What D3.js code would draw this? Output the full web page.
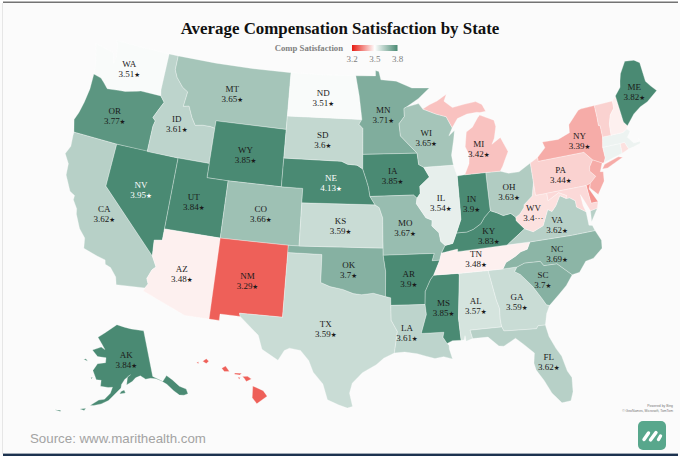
<!DOCTYPE html>
<html>
<head>
<meta charset="utf-8">
<script src="https://cdn.jsdelivr.net/npm/d3@7"></script>
<style>
body { margin: 0; background: #fbfbfb; }
svg { display: block; }
.state-label { font-family: "Liberation Serif", serif; font-size: 9px; text-anchor: middle; }
.state-label .star { font-family: "DejaVu Sans", sans-serif; font-size: 6.5px; }
</style>
</head>
<body>
<svg width="680" height="456"></svg>
<script>
const titleText = "Average Compensation Satisfaction by State";
const legendTitle = "Comp Satisfaction";
const legendTicks = [3.2, 3.5, 3.8];
const sourceText = "Source: www.marithealth.com";

const stateCodes = ["WA","OR","CA","NV","ID","MT","WY","UT","AZ","CO","NM","TX","OK","KS","NE","SD","ND","MN","IA","MO","AR","LA","MS","AL","GA","FL","SC","NC","TN","KY","VA","WV","OH","IN","IL","WI","MI","NY","PA","NJ","DE","MD","CT","RI","MA","VT","NH","ME","AK","HI"];
const satisfaction = [3.51,3.77,3.62,3.95,3.61,3.65,3.85,3.84,3.48,3.66,3.29,3.59,3.7,3.59,4.13,3.6,3.51,3.71,3.85,3.67,3.9,3.61,3.85,3.57,3.59,3.62,3.7,3.69,3.48,3.83,3.62,3.46,3.63,3.9,3.54,3.65,3.42,3.39,3.44,3.39,3.36,3.45,3.53,3.46,3.53,3.44,3.48,3.82,3.84,3.29];
const unlabeled = ["NJ","DE","MD","CT","RI","MA","VT","NH","HI"];
const truncatedLabels = { WV: "3.4···" };

// state outlines, lon/lat
const stateShapes = {
  WA: [[[-122.76,49],[-120,49],[-117.03,49],[-117.04,46.42],[-116.92,45.99],[-118.98,46],[-119.3,45.93],[-120.5,45.7],[-121.2,45.65],[-122.3,45.55],[-122.8,45.9],[-123.2,46.15],[-124,46.27],[-124.1,46.9],[-124.7,48.38],[-123.1,48.15],[-122.7,48.1],[-122.4,47.4],[-122.3,47.9],[-122.5,48.75]]],
  OR: [[[-124.55,42.84],[-124.21,42],[-120,42],[-117.03,42],[-117.03,43.8],[-116.92,44.2],[-117.22,44.4],[-116.85,45],[-116.46,45.6],[-116.92,45.99],[-118.98,46],[-119.3,45.93],[-120.5,45.7],[-121.2,45.65],[-122.3,45.55],[-122.8,45.9],[-123.2,46.15],[-124,46.27],[-123.95,45.2],[-124.1,44.2],[-124.3,43.4]]],
  CA: [[[-124.21,42],[-120,42],[-120,39],[-114.63,35],[-114.14,34.3],[-114.43,34.05],[-114.72,33.4],[-114.52,33.03],[-114.72,32.72],[-117.12,32.53],[-117.3,33.05],[-117.9,33.6],[-118.4,33.74],[-118.5,34.03],[-119.2,34.15],[-120.5,34.45],[-120.65,35.15],[-121.3,35.7],[-121.9,36.6],[-122,36.96],[-122.5,37.5],[-122.5,37.8],[-123,38],[-123.75,39],[-123.85,39.8],[-124.4,40.4],[-124.1,41],[-124.2,41.75]]],
  NV: [[[-120,42],[-114.04,42],[-114.04,36.2],[-114.74,36.1],[-114.63,35],[-120,39]]],
  ID: [[[-117.03,49],[-116.05,49],[-116.05,48],[-115.7,47.5],[-114.95,46.9],[-114.35,46.65],[-114.5,45.6],[-113.95,45.7],[-113.45,44.95],[-113,44.45],[-112.3,44.55],[-111.5,44.55],[-111.05,44.48],[-111.05,42],[-114.04,42],[-117.03,42],[-117.03,43.8],[-116.92,44.2],[-117.22,44.4],[-116.85,45],[-116.46,45.6],[-116.92,45.99],[-117.04,46.42]]],
  MT: [[[-116.05,49],[-112,49],[-108,49],[-104.05,49],[-104.05,45.94],[-104.05,45],[-111.05,45],[-111.05,44.48],[-111.5,44.55],[-112.3,44.55],[-113,44.45],[-113.45,44.95],[-113.95,45.7],[-114.5,45.6],[-114.35,46.65],[-114.95,46.9],[-115.7,47.5],[-116.05,48]]],
  WY: [[[-111.05,45],[-104.05,45],[-104.05,43],[-104.05,41],[-109.05,41],[-111.05,41]]],
  UT: [[[-114.04,42],[-111.05,42],[-111.05,41],[-109.05,41],[-109.05,37],[-114.04,37]]],
  AZ: [[[-114.04,37],[-109.05,37],[-109.05,31.33],[-111.07,31.33],[-114.81,32.5],[-114.72,32.72],[-114.52,33.03],[-114.72,33.4],[-114.43,34.05],[-114.14,34.3],[-114.63,35],[-114.74,36.1],[-114.04,36.2]]],
  CO: [[[-109.05,41],[-104.05,41],[-102.05,41],[-102.05,40],[-102.05,37],[-103,37],[-109.05,37]]],
  NM: [[[-109.05,37],[-103,37],[-103,36.5],[-103.04,32],[-106.62,32],[-106.53,31.78],[-108.21,31.78],[-108.21,31.33],[-109.05,31.33]]],
  TX: [[[-103,36.5],[-100,36.5],[-100,34.56],[-99.2,34.3],[-98.1,34.13],[-97.2,33.85],[-96.5,33.78],[-95.5,33.88],[-94.48,33.64],[-94.04,33.55],[-94.04,33.02],[-94.04,31.99],[-93.55,31.2],[-93.7,30.4],[-93.84,29.7],[-94.7,29.35],[-95.3,28.9],[-96.4,28.35],[-97.2,27.6],[-97.4,26.9],[-97.15,25.96],[-97.55,25.85],[-98.2,26.05],[-99.1,26.4],[-99.5,27.5],[-100.3,28.3],[-100.7,29.1],[-101.4,29.77],[-102.3,29.88],[-102.7,29.7],[-103.15,28.98],[-104.5,29.65],[-104.9,30.6],[-106.53,31.78],[-106.62,32],[-103.04,32]]],
  OK: [[[-103,37],[-102.05,37],[-94.62,37],[-94.62,36.5],[-94.43,35.39],[-94.48,33.64],[-95.5,33.88],[-96.5,33.78],[-97.2,33.85],[-98.1,34.13],[-99.2,34.3],[-100,34.56],[-100,36.5],[-103,36.5]]],
  KS: [[[-102.05,40],[-95.31,40],[-94.92,39.8],[-94.62,39.1],[-94.62,37],[-102.05,37]]],
  NE: [[[-104.05,43],[-98.5,43],[-97.9,42.8],[-97,42.75],[-96.45,42.49],[-96.1,41.7],[-95.9,41.2],[-95.77,40.58],[-95.31,40],[-102.05,40],[-102.05,41],[-104.05,41]]],
  SD: [[[-104.05,45.94],[-96.56,45.94],[-96.85,45.6],[-96.45,45.3],[-96.45,43.5],[-96.45,42.49],[-97,42.75],[-97.9,42.8],[-98.5,43],[-104.05,43]]],
  ND: [[[-104.05,49],[-100,49],[-97.23,49],[-96.85,47.6],[-96.56,45.94],[-104.05,45.94]]],
  MN: [[[-97.23,49],[-95.15,49],[-95.15,49.38],[-94.8,49.3],[-94.6,48.72],[-93,48.6],[-91.4,48.07],[-89.6,48],[-90.8,47.3],[-92.05,46.75],[-92.3,46.66],[-92.29,46.1],[-92.85,45.6],[-92.75,44.75],[-91.2,43.5],[-96.45,43.5],[-96.45,45.3],[-96.85,45.6],[-96.56,45.94],[-96.85,47.6]]],
  IA: [[[-96.45,43.5],[-91.2,43.5],[-91.1,42.7],[-90.64,42.5],[-90.15,41.8],[-91.1,41.2],[-91.1,40.7],[-91.42,40.38],[-91.73,40.61],[-95.77,40.58],[-95.9,41.2],[-96.1,41.7],[-96.45,42.49]]],
  MO: [[[-95.77,40.58],[-91.73,40.61],[-91.42,40.38],[-91.5,40],[-90.7,39],[-90.15,38.8],[-90.2,38.4],[-89.6,37.9],[-89.5,37.3],[-89.13,37],[-89.5,36.5],[-89.7,36],[-90.37,36],[-90.15,36.5],[-94.62,36.5],[-94.62,37],[-94.62,39.1],[-94.92,39.8],[-95.31,40]]],
  AR: [[[-94.62,36.5],[-90.15,36.5],[-90.37,36],[-89.7,36],[-90.3,35],[-90.6,34.7],[-91.1,33.9],[-91.17,33],[-94.04,33.02],[-94.04,33.55],[-94.48,33.64],[-94.43,35.39]]],
  LA: [[[-94.04,33.02],[-91.17,33],[-91.1,32.3],[-91.6,31],[-89.75,31],[-89.85,30.65],[-89.55,30.2],[-89.4,30.05],[-89.4,29.8],[-89.2,29.1],[-89.9,29.3],[-90.6,29.2],[-91.3,29.4],[-92,29.6],[-93,29.75],[-93.84,29.7],[-93.7,30.4],[-93.55,31.2],[-94.04,31.99]]],
  MS: [[[-91.17,33],[-91.1,33.9],[-90.6,34.7],[-90.3,35],[-88.2,35],[-88.1,34.9],[-88.47,31.9],[-88.4,30.35],[-89.1,30.37],[-89.55,30.2],[-89.85,30.65],[-89.75,31],[-91.6,31],[-91.1,32.3]]],
  AL: [[[-88.2,35],[-85.6,35],[-85.18,32.87],[-85,32.3],[-85.05,31.55],[-85,31],[-87.6,31],[-87.45,30.4],[-88,30.25],[-88.05,30.65],[-88.15,30.35],[-88.4,30.35],[-88.47,31.9],[-88.1,34.9]]],
  GA: [[[-85.6,35],[-84.32,34.99],[-83.1,35],[-83.35,34.7],[-82.9,34.45],[-82,33.5],[-81.4,32.6],[-81.1,32.1],[-80.85,32.03],[-81.2,31.5],[-81.45,30.72],[-82.05,30.75],[-82.2,30.56],[-84.86,30.7],[-85,31],[-85.05,31.55],[-85,32.3],[-85.18,32.87]]],
  FL: [[[-87.6,31],[-85,31],[-84.86,30.7],[-82.2,30.56],[-82.05,30.75],[-81.45,30.72],[-81.3,29.9],[-80.9,29],[-80.55,28.4],[-80.3,27.3],[-80.03,26.8],[-80.13,25.8],[-80.4,25.2],[-81.1,25.15],[-81.75,25.95],[-82.2,26.9],[-82.7,27.7],[-82.8,28.2],[-82.65,28.9],[-83.4,29.6],[-84,30.1],[-85,29.65],[-85.4,29.7],[-86.2,30.4],[-87.45,30.4]]],
  SC: [[[-83.35,34.7],[-83.1,35],[-82.4,35.2],[-81.05,35.15],[-80.8,34.82],[-79.67,34.8],[-78.55,33.86],[-79.2,33.2],[-79.9,32.7],[-80.85,32.03],[-81.1,32.1],[-81.4,32.6],[-82,33.5],[-82.9,34.45]]],
  NC: [[[-84.32,34.99],[-83.1,35],[-82.4,35.2],[-81.05,35.15],[-80.8,34.82],[-79.67,34.8],[-78.55,33.86],[-77.9,33.93],[-77.2,34.6],[-76.5,34.7],[-75.6,35.25],[-75.5,35.8],[-75.87,36.55],[-78,36.55],[-81.68,36.59],[-82,36.12],[-82.6,36],[-83.1,35.75],[-84,35.4]]],
  TN: [[[-90.3,35],[-88.2,35],[-85.6,35],[-84.32,34.99],[-84,35.4],[-83.1,35.75],[-82.6,36],[-82,36.12],[-81.68,36.59],[-83.68,36.6],[-88.07,36.5],[-88.07,36.68],[-89.42,36.5],[-89.5,36.5],[-89.7,36]]],
  KY: [[[-89.42,36.5],[-88.07,36.68],[-88.07,36.5],[-83.68,36.6],[-81.97,37.54],[-82.6,38.17],[-82.6,38.42],[-83,38.73],[-83.7,38.65],[-84.25,38.9],[-84.82,39.1],[-85.4,38.7],[-85.8,38.27],[-86.5,37.95],[-87.1,37.8],[-88.05,37.8],[-88.45,37.1],[-89.13,37],[-89.5,36.5]]],
  VA: [[[-83.68,36.6],[-81.68,36.59],[-78,36.55],[-75.87,36.55],[-76,36.93],[-76.3,37],[-76.3,37.6],[-76.3,37.95],[-77.05,38.4],[-77.05,38.85],[-77.5,39.12],[-77.83,39.13],[-78.35,39.4],[-78.87,38.76],[-79.3,38.42],[-79.65,38.6],[-80.3,37.55],[-81.25,37.25],[-81.97,37.54]],[[-75.25,38.03],[-75.9,37.95],[-76,37.2]]],
  WV: [[[-81.97,37.54],[-81.25,37.25],[-80.3,37.55],[-79.65,38.6],[-79.3,38.42],[-78.87,38.76],[-78.35,39.4],[-77.83,39.13],[-77.72,39.32],[-78.4,39.62],[-79.48,39.2],[-79.48,39.72],[-80.52,39.72],[-80.52,40.64],[-80.85,39.7],[-81.7,39.2],[-81.75,39],[-82.2,38.6],[-82.6,38.42],[-82.6,38.17]]],
  OH: [[[-84.82,41.76],[-83.45,41.73],[-82.7,41.5],[-81.7,41.5],[-80.52,41.98],[-80.52,40.64],[-80.85,39.7],[-81.7,39.2],[-81.75,39],[-82.2,38.6],[-82.6,38.42],[-83,38.73],[-83.7,38.65],[-84.25,38.9],[-84.82,39.1]]],
  IN: [[[-87.53,41.72],[-86.8,41.76],[-84.82,41.76],[-84.82,39.1],[-85.4,38.7],[-85.8,38.27],[-86.5,37.95],[-87.1,37.8],[-88.05,37.8],[-87.55,38.7],[-87.53,39.35]]],
  IL: [[[-90.64,42.5],[-87.8,42.5],[-87.53,41.72],[-87.53,39.35],[-87.55,38.7],[-88.05,37.8],[-88.45,37.1],[-89.13,37],[-89.5,37.3],[-89.6,37.9],[-90.2,38.4],[-90.15,38.8],[-90.7,39],[-91.5,40],[-91.42,40.38],[-91.1,40.7],[-91.1,41.2],[-90.15,41.8]]],
  WI: [[[-92.05,46.75],[-90.8,46.95],[-90.4,46.55],[-89.1,46.14],[-88.1,45.9],[-87.6,45.1],[-88,44.55],[-87.4,44.9],[-87.55,44.3],[-87.9,43.2],[-87.8,42.5],[-90.64,42.5],[-91.1,42.7],[-91.2,43.5],[-92.75,44.75],[-92.85,45.6],[-92.29,46.1],[-92.3,46.66]]],
  MI: [[[-90.4,46.55],[-89.1,46.14],[-88.1,45.9],[-87.6,45.1],[-87,45.7],[-86,45.95],[-85,46],[-84.7,45.95],[-84.1,46],[-84.4,46.5],[-85,46.75],[-86.2,46.65],[-87.4,46.5],[-88.2,47],[-87.9,47.47],[-88.9,47.05],[-89.7,46.83]],[[-84.82,41.76],[-86.8,41.76],[-86.3,42.5],[-86.2,43.1],[-86.5,43.7],[-86.25,44.7],[-85.6,45],[-85,45.6],[-84.75,45.78],[-83.4,45.3],[-83.3,44.85],[-83.6,44.05],[-83.9,43.65],[-83,44.05],[-82.45,43],[-82.9,42.4],[-83.15,42.05],[-83.45,41.73]]],
  NY: [[[-79.76,42.27],[-78.9,42.85],[-79.05,43.27],[-77.5,43.25],[-76.3,43.55],[-76.2,44.1],[-75,44.95],[-74.7,45],[-73.34,45.01],[-73.35,44.2],[-73.4,43.6],[-73.25,43.55],[-73.28,42.75],[-73.5,42.05],[-73.5,41.3],[-73.7,41],[-73.9,41],[-74.7,41.36],[-75.35,42],[-79.76,42]],[[-74,40.6],[-73.7,40.87],[-72.3,41.15],[-71.9,41.05],[-73.5,40.58]]],
  PA: [[[-80.52,41.98],[-79.76,42.27],[-79.76,42],[-75.35,42],[-74.7,41.36],[-75.1,40.95],[-75.2,40.65],[-74.75,40.2],[-75.4,39.8],[-75.8,39.72],[-79.48,39.72],[-80.52,39.72],[-80.52,40.64]]],
  NJ: [[[-74.7,41.36],[-73.9,41],[-74.25,40.45],[-73.98,40.4],[-74.1,39.75],[-74.9,38.93],[-75.5,39.5],[-75.4,39.8],[-74.75,40.2],[-75.2,40.65],[-75.1,40.95]]],
  DE: [[[-75.8,39.72],[-75.4,39.8],[-75.6,39.45],[-75.05,38.45],[-75.7,38.46]]],
  MD: [[[-79.48,39.72],[-75.8,39.72],[-75.7,38.46],[-75.05,38.45],[-75.25,38.03],[-75.9,37.95],[-76.2,38.6],[-76.5,39.2],[-76.45,38.4],[-76.3,37.95],[-77.05,38.4],[-77.05,38.85],[-77.5,39.12],[-77.83,39.13],[-77.72,39.32],[-78.4,39.62],[-79.48,39.2]]],
  CT: [[[-73.5,42.05],[-71.8,42.02],[-71.85,41.32],[-73.7,41],[-73.5,41.3]]],
  RI: [[[-71.8,42.02],[-71.38,42.02],[-71.15,41.5],[-71.85,41.32]]],
  MA: [[[-73.5,42.05],[-73.28,42.75],[-72.45,42.73],[-71.3,42.7],[-70.85,42.88],[-70.6,42.65],[-71,42.3],[-70.55,41.8],[-70,41.8],[-70,42.05],[-69.95,41.67],[-70.65,41.55],[-71.15,41.5],[-71.38,42.02],[-71.8,42.02]]],
  VT: [[[-73.34,45.01],[-71.5,45.01],[-71.55,44.5],[-72.05,44.1],[-72.35,43.5],[-72.45,42.73],[-73.28,42.75],[-73.25,43.55],[-73.4,43.6],[-73.35,44.2]]],
  NH: [[[-71.5,45.01],[-71.08,45.3],[-70.98,43.4],[-70.7,43.07],[-70.85,42.88],[-71.3,42.7],[-72.45,42.73],[-72.35,43.5],[-72.05,44.1],[-71.55,44.5]]],
  ME: [[[-71.08,45.3],[-70.4,45.8],[-70.25,46.2],[-70,46.7],[-69.23,47.46],[-68.3,47.35],[-67.8,47.07],[-67.8,45.7],[-67.45,45.3],[-67,44.85],[-68.2,44.3],[-69,44.1],[-69.8,43.75],[-70.7,43.07],[-70.98,43.4]]],
  AK: [[[-141,69.65],[-141,60.3],[-137.5,58.9],[-135.5,59.8],[-133.8,58.7],[-132,57],[-130,56],[-130,55],[-131.5,55],[-133,55.3],[-134.5,56.5],[-136.3,58.1],[-138,59],[-140,59.7],[-142,60],[-144,60],[-146,60.8],[-148,60.5],[-149.5,59.8],[-151.8,59.2],[-151.3,60.8],[-150,61.2],[-152.5,60.3],[-153.8,59.3],[-154,58.6],[-156.5,57.2],[-158.5,56],[-161,55.2],[-163.5,54.7],[-164.8,54.6],[-162,55.9],[-160,56.2],[-158,57.5],[-157.3,58.7],[-159,58.6],[-162,58.7],[-162,59.9],[-164,59.9],[-166,61.6],[-165,62.6],[-164.5,63.1],[-161,63.5],[-161,64.5],[-165,64.5],[-168,65.6],[-164,66.5],[-162,66.1],[-163.8,67.1],[-166.5,68.35],[-163,69.5],[-156.5,71.35],[-152,70.85],[-148,70.4]],[[-154.5,57.4],[-152.3,57.6],[-152.8,58.2],[-154,57.9]],[[-168,53.5],[-166,53.9],[-166.5,53.4]],[[-176,52],[-174,52.3],[-174,52]],[[-166.3,60.1],[-165.6,60.3],[-166,59.8]],[[-171,63.4],[-169,63.2],[-170,63.6]]],
  HI: [[[-155.9,20.25],[-155.1,19.9],[-154.8,19.5],[-155.6,18.95],[-155.95,19.4]],[[-156.7,20.95],[-156.3,20.95],[-156,20.75],[-156.4,20.58],[-156.55,20.8]],[[-158.3,21.55],[-158,21.7],[-157.7,21.3],[-158.1,21.3]],[[-159.78,22.05],[-159.5,22.22],[-159.3,22.05],[-159.5,21.88]],[[-157.3,21.2],[-156.75,21.17],[-156.9,21.05],[-157.3,21.1]],[[-157.05,20.9],[-156.85,20.85],[-156.95,20.75]],[[-160.25,21.95],[-160.1,22],[-160.1,21.85]]]
};

// px nudges from the polygon centroid to where the label sits
const labelNudge = {
  WA:[-2.4,0], OR:[-3.5,0.4], CA:[-0.7,1.6], NV:[-2,0.3], ID:[-2,0.5], MT:[-2,0.2], WY:[-2,0.9], UT:[-2.6,1.4],
  AZ:[-2.7,1.3], CO:[-1.8,0.6], NM:[-2,1.4], TX:[-2,1], OK:[-1.7,2.2], KS:[-0.7,0.5], NE:[4,1.2], SD:[-2,0.7],
  ND:[-1,1.2], MN:[-1.3,1.4], IA:[-1.2,1.1], MO:[-2,-0.2], AR:[0,1.4], LA:[-10,0], MS:[0.4,0.7], AL:[-1.2,1.7],
  GA:[-0.7,0.7], FL:[11.5,5.3], SC:[-2.4,0.4], NC:[-4,2.1], TN:[-2.2,0.2], KY:[1,1.8], VA:[-2.2,1.7], WV:[-3.5,2.6],
  OH:[-0.8,1.3], IN:[-1.2,3.4], IL:[-0.6,1.4], WI:[-1.8,1.7], MI:[-27,-25], NY:[0.1,1.7], PA:[-1,1.1], ME:[1.7,1.1], AK:[1,-1]
};

const svg = d3.select("svg");

const color = d3.scaleLinear()
    .domain([3.2, 3.5, 3.8])
    .range(["#e71c12", "#ffffff", "#4a8a73"])
    .clamp(true);

// lower 48, Alaska and Hawaii each get their own projection
const lower48 = d3.geoAlbers().rotate([96, 0]).center([0, 37.5]).parallels([29.5, 45.5]).scale(820).translate([367.5, 241]);
const alaska = d3.geoConicEqualArea().rotate([154, 0]).center([0, 60]).parallels([55, 65]).scale(285).translate([121, 381]);
const hawaii = d3.geoConicEqualArea().rotate([157, 0]).center([0, 21]).parallels([8, 18]).scale(790).translate([238.5, 375.7]);

// vertices only, straight segments between them
function planarPath(proj) {
    return d3.geoPath(d3.geoTransform({
        point(x, y) {
            const p = proj([x, y]);
            this.stream.point(p[0], p[1]);
        }
    }));
}
const pathFor = code => planarPath(code === "AK" ? alaska : code === "HI" ? hawaii : lower48);

// geo streams expect closed rings
const states = stateCodes.map((code, i) => ({
    code,
    value: satisfaction[i],
    geo: { type: "MultiPolygon", coordinates: stateShapes[code].map(r => [r.concat([r[0]])]) }
}));

// frame
svg.append("rect").attr("width", 680).attr("height", 3).attr("fill", "#fff");
svg.append("rect").attr("x", 3).attr("y", 1.5).attr("width", 675).attr("height", 1.5).attr("fill", "#737373");
svg.append("rect").attr("x", 2).attr("y", 3).attr("width", 1).attr("height", 451).attr("fill", "#e6e6e6");
svg.append("rect").attr("x", 3).attr("y", 453.6).attr("width", 675).attr("height", 2.4).attr("fill", "#1d3350");

svg.append("g")
    .selectAll("path")
    .data(states)
    .join("path")
    .attr("d", d => pathFor(d.code)(d.geo))
    .attr("fill", d => color(d.value))
    .attr("stroke", "#fff")
    .attr("stroke-width", 0.5)
    .attr("stroke-opacity", 0.6);

// title
svg.append("text")
    .attr("x", 340).attr("y", 34)
    .attr("text-anchor", "middle")
    .style("font-family", "'Liberation Serif', serif")
    .style("font-weight", "bold")
    .style("font-size", "16.9px")
    .attr("fill", "#111")
    .text(titleText);

// state labels
const labels = svg.append("g")
    .selectAll("text")
    .data(states.filter(d => !unlabeled.includes(d.code)))
    .join("text")
    .attr("class", "state-label")
    .attr("fill", d => d.value >= 3.95 ? "#fff" : "#1a1a1a")
    .attr("transform", d => {
        const c = pathFor(d.code).centroid(d.geo);
        const n = labelNudge[d.code] || [0, 0];
        return `translate(${c[0] + n[0]},${c[1] + n[1]})`;
    });
labels.append("tspan").attr("x", 0).attr("y", -2).text(d => d.code);
labels.append("tspan").attr("x", 0).attr("y", 8)
    .text(d => truncatedLabels[d.code] || d.value);
labels.filter(d => !truncatedLabels[d.code])
    .append("tspan").attr("class", "star").text("★");

// legend
const legendX = d3.scaleLinear().domain([3.2, 3.8]).range([352, 397.5]);
const grad = svg.append("defs").append("linearGradient").attr("id", "legend-grad");
grad.selectAll("stop")
    .data(legendTicks)
    .join("stop")
    .attr("offset", d => (legendX(d) - legendX(3.2)) / (legendX(3.8) - legendX(3.2)))
    .attr("stop-color", d => color(d));

svg.append("rect")
    .attr("x", legendX(3.2)).attr("y", 45)
    .attr("width", legendX(3.8) - legendX(3.2)).attr("height", 6)
    .attr("fill", "url(#legend-grad)");

svg.append("text")
    .attr("x", 343).attr("y", 51)
    .attr("text-anchor", "end")
    .style("font-family", "'Liberation Serif', serif")
    .style("font-weight", "bold")
    .style("font-size", "8.7px")
    .attr("fill", "#808080")
    .text(legendTitle);

svg.selectAll(".legend-tick")
    .data(legendTicks)
    .join("text")
    .attr("class", "legend-tick")
    .attr("x", d => legendX(d))
    .attr("y", 62)
    .attr("text-anchor", "middle")
    .style("font-family", "'Liberation Serif', serif")
    .style("font-size", "9px")
    .attr("fill", "#808080")
    .text(d => d3.format(".1f")(d));

// footer
svg.append("text")
    .attr("x", 30).attr("y", 443)
    .style("font-family", "'Liberation Sans', sans-serif")
    .style("font-size", "13.3px")
    .attr("fill", "#a3a3a3")
    .text(sourceText);

const credit = svg.append("g")
    .attr("text-anchor", "end")
    .style("font-family", "'Liberation Sans', sans-serif")
    .style("font-size", "3.4px")
    .attr("fill", "#777");
credit.append("text").attr("x", 673).attr("y", 407).text("Powered by Bing");
credit.append("text").attr("x", 673).attr("y", 412).text("© GeoNames, Microsoft, TomTom");

// logo
const logo = svg.append("g").attr("transform", "translate(638,421)");
logo.append("rect").attr("width", 28).attr("height", 29).attr("rx", 5).attr("fill", "#58a78c");
logo.selectAll("line")
    .data([[6, 18.5, 10.5, 12], [12.5, 19, 18, 11.5], [20.5, 18.5, 22.5, 15]])
    .join("line")
    .attr("x1", d => d[0]).attr("y1", d => d[1])
    .attr("x2", d => d[2]).attr("y2", d => d[3])
    .attr("stroke", "#fff").attr("stroke-width", 3.4).attr("stroke-linecap", "round");
</script>
</body>
</html>
